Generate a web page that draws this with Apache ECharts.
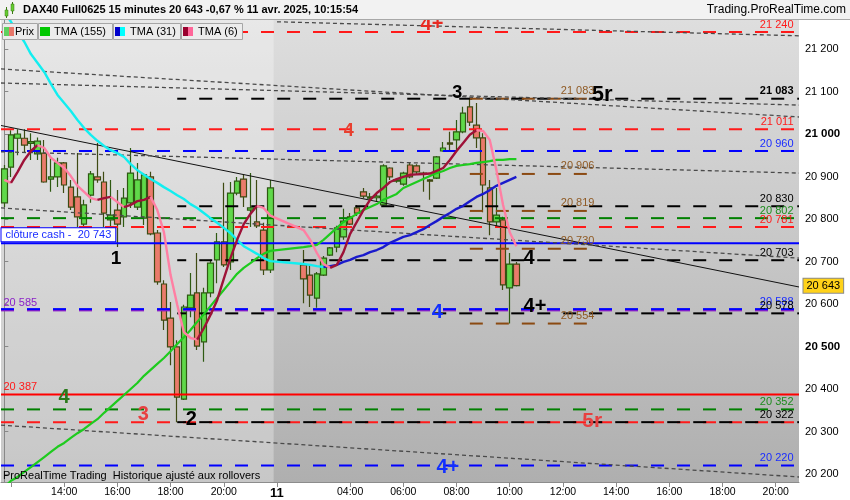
<!DOCTYPE html>
<html>
<head>
<meta charset="utf-8">
<script src="https://cdn.jsdelivr.net/npm/echarts@6.0.0/dist/echarts.min.js"></script>
<style>
html,body{margin:0;padding:0;background:#ffffff;}
#chart{width:850px;height:500px;}
</style>
</head>
<body>
<div id="chart"></div>
<script>
// ---------------- DATA ----------------
const sessions = [
  { day: '10', start: '11:45', end: '21:45' },
  { day: '11', start: '01:15', end: '20:45' }
];
// [open, close, low, high] per 15-min bar from 10 Apr 11:45
const candles = [
 [20838,20918,20828,20927],[20922,20998,20899,21009],[20990,21000,20950,21011],[20990,20974,20955,21011],
 [20978,20982,20939,21002],[20953,20983,20939,20992],[20955,20887,20885,20986],[20894,20899,20864,20944],
 [20899,20932,20875,20944],[20932,20880,20861,20934],[20875,20828,20821,20892],[20852,20805,20781,20955],
 [20788,20833,20779,20845],[20856,20906,20838,20913],[20899,20892,20885,20979],[20887,20814,20781,20911],
 [20798,20809,20751,20892],[20821,20788,20734,20868],[20805,20849,20781,20873],[20838,20908,20826,20967],
 [20828,20892,20821,20932],[20802,20904,20786,20908],[20899,20765,20762,20911],[20767,20652,20645,20774],
 [20647,20562,20539,20656],[20567,20499,20456,20605],[20499,20381,20322,20515],[20376,20593,20374,20598],
 [20591,20621,20569,20673],[20626,20501,20492,20720],[20511,20626,20464,20638],[20626,20696,20616,20704],
 [20704,20746,20649,20767],[20746,20692,20687,20885],[20699,20861,20680,20887],[20861,20889,20856,20899],
 [20894,20852,20828,20906],[20821,20826,20781,20908],[20793,20784,20779,20892],[20774,20680,20668,20791],
 [20680,20873,20673,20892],
 null, null, null, null,
 [20692,20659,20602,20727],[20668,20621,20593,20692],[20614,20671,20591,20675],[20668,20708,20666,20713],
 [20715,20732,20713,20734],[20734,20779,20722,20784],[20758,20795,20751,20824],[20805,20788,20786,20814],
 [20826,20814,20807,20833],[20864,20854,20849,20873],[20849,20852,20845,20861],[20850,20854,20842,20861],
 [20833,20925,20831,20929],[20920,20899,20892,20922],[20889,20892,20885,20896],[20882,20908,20878,20911],
 [20927,20899,20896,20932],[20925,20911,20904,20929],[20908,20906,20864,20911],[20892,20889,20845,20894],
 [20896,20946,20894,20948],[20960,20967,20958,20981],[20979,20976,20962,21005],[20986,21005,20962,21033],
 [21005,21049,21002,21064],[21064,21028,21019,21083],[21021,20991,20967,21073],[20991,20880,20816,21002],
 [20873,20793,20762,20892],[20793,20809,20781,20873],[20798,20645,20633,20805],[20638,20694,20554,20720],
 [20694,20643,20641,20699]
];
const tma155 = [
 20169,20184,20193,20205,20216,20228,20240,20252,20264,20273,
 20285,20296,20306,20318,20329,20344,20358,20372,20386,20400,
 20414,20431,20445,20459,20473,20489,20506,20522,20539,20558,
 20576,20595,20614,20633,20652,20671,20685,20696,20708,20718,
 20725,null,null,null,null,20734,20736,20739,20751,20765,
 20779,20793,20802,20812,20821,20828,20835,20845,20852,20859,
 20873,20880,20887,20894,20901,20908,20913,20920,20925,20927,
 20929,20932,20934,20936,20939,20939,20941,20941
];
const tma31 = [
 21287,21264,21240,21217,21188,21167,21146,21118,21092,21073,
 21054,21033,21014,20998,20984,20972,20962,20955,20946,20929,
 20915,20904,20894,20885,20875,20866,20856,20847,20835,20826,
 20814,20802,20791,20779,20767,20751,20736,20727,20718,20708,
 20701,null,null,null,null,20694,20692,20689,20687,20689,
 20692,20699,20704,20711,20715,20722,20727,20734,20744,20751,
 20758,20762,20769,20776,20786,20795,20805,20814,20824,20831,
 20842,20852,20859,20868,20878,20885,20892,20899
];
const tma6 = [
 20892,20885,20911,20939,20960,20974,20967,20944,20932,20920,
 20901,20878,20864,20849,20845,20849,20852,20840,20828,20833,
 20842,20845,20852,20821,20769,20668,20598,20534,20520,20516,
 20543,20574,20609,20659,20708,20751,20788,20812,20831,20826,
 20808,null,null,null,null,20774,20751,20720,20694,20685,
 20692,20722,20765,20793,20821,20845,20861,20873,20887,20894,
 20899,20904,20905,20906,20907,20913,20920,20939,20960,20979,
 20998,21009,21007,20986,20915,20833,20769,20736
];
const yTickValues = [20200,20300,20400,20500,20600,20700,20800,20900,21000,21100,21200];
const yBoldTicks = [20500,21000];
const xLabelCats = ['10 14:00','10 16:00','10 18:00','10 20:00','11 01:15','11 04:00','11 06:00','11 08:00','11 10:00','11 12:00','11 14:00','11 16:00','11 18:00','11 20:00'];
const xTickOnlyCats = ['10 12:00'];
const dayStartCat = '11 01:15';

const redDashLevels = [21240, 21011, 20781, 20322];
const blueDashLevels = [20960, 20588, 20220];
const purpleDashLevels = [20585];
const greenDashLevels = [20802, 20352];
const blackDashLevels = [21083, 20830, 20703, 20578, 20322];
const brownDashLevels = [21083, 20906, 20819, 20730, 20554];
const cashClose = 20743;
const redSolidLevel = 20387;
const lastPrice = 20643;
const blackStartCat = '10 18:15';   // swing low bar
const brownStartCat = '11 08:30';   // swing high bar
const brownEndIdx = 87.6;

// trend lines: [startIdx, startPrice, endIdx, endPrice]
const solidTrends = [[-0.5, 21020, 119.5, 20640]];
const dashedTrends = [
  [41, 21264, 119.5, 21231],
  [-0.5, 21153, 119.5, 21040],
  [-0.5, 21120, 119.5, 21068],
  [-0.5, 20958, 119.5, 20908],
  [-0.5, 20826, 119.5, 20708],
  [-0.5, 20315, 119.5, 20193]
];
// right-side level tags: [price, colour key]
const rightTags = [[21240,'red'],[21083,'black'],[21011,'red'],[20960,'blue'],[20830,'black'],[20802,'green'],
  [20781,'red'],[20703,'black'],[20588,'blue'],[20578,'black'],[20352,'green'],[20322,'black'],[20220,'blue']];
// wave count labels: [bar position, price, text]
const waveLabels = [
  [64.3, 21258, '4+'], [68.1, 21096, '3'], [89.9, 21092, '5r'], [51.8, 21007, '4'],
  [16.8, 20706, '1'], [78.9, 20706, '4'], [65.1, 20579, '4'], [79.8, 20593, '4+'],
  [9.0, 20381, '4'], [20.9, 20339, '3'], [28.1, 20329, '2'], [88.4, 20325, '5r'], [66.7, 20216, '4+']
];

// ---------------- STYLES / BUILD ----------------
const FONT = '"Liberation Sans", Arial, sans-serif';
const COL = { red:'#ff1a1a', blue:'#1a2cff', green:'#1e8c1e', black:'#000000', purple:'#8a1fc8', brown:'#8b4a12' };
const waveColors = ['#e82a22','#000','#000','#e8402f','#000','#000','#1230ff','#000','#2a7a1a','#e84040','#000','#e84040','#1230ff'];
const waveSizes  = [20,18,22,18,19,20,20,20,20,20,20,21,20];

const pad = n => (n < 10 ? '0' : '') + n;
const fmt = v => String(Math.round(v)).replace(/\B(?=(\d{3})+(?!\d))/g, ' ');

const categories = [];
sessions.forEach(s => {
  let [h, m] = s.start.split(':').map(Number);
  const [eh, em] = s.end.split(':').map(Number);
  while (h * 60 + m <= eh * 60 + em) {
    categories.push(s.day + ' ' + pad(h) + ':' + pad(m));
    m += 15; if (m >= 60) { m -= 60; h++; }
  }
});
const N = categories.length;
const XMAX = N - 0.5;
const blackStart = categories.indexOf(blackStartCat);
const brownStart = categories.indexOf(brownStartCat);

const candleData = [];
candles.forEach((c, i) => { if (c) candleData.push([i, c[0], c[1], c[2], c[3]]); });

const series = [];
// background band for previous day
series.push({
  type: 'line', xAxisIndex: 1, data: [[-0.5, 20190], [0, 20190]], symbol: 'none', lineStyle: { opacity: 0 }, silent: true, z: 0,
  markArea: { silent: true, itemStyle: { color: 'rgba(255,255,255,0.30)' },
    data: [[{ xAxis: -0.5 }, { xAxis: categories.indexOf(dayStartCat) - 0.5 }]] }
});

series.push({
  type: 'candlestick', xAxisIndex: 0, data: candleData, encode: { x: 0, y: [1, 2, 3, 4] }, barWidth: 6, z: 3,
  itemStyle: { color: '#60d84a', color0: '#ea7b6b', borderColor: '#2e5a12', borderColor0: '#3e4a12', borderWidth: 1.2 }
});

function hLine(v, x0, x1, color, width, type, offset, z) {
  series.push({ type: 'line', xAxisIndex: 1, data: [[x0, v], [x1, v]], symbol: 'none', silent: true, z: z || 4,
    lineStyle: { color, width, type: type || 'solid', dashOffset: offset || 0 } });
}
const DASH = [13, 13];
redDashLevels.forEach(v => hLine(v, -0.5, XMAX, COL.red, 2, DASH, 0));
purpleDashLevels.forEach(v => hLine(v, -0.5, XMAX, COL.purple, 2, DASH, 0));
blueDashLevels.forEach(v => hLine(v, -0.5, XMAX, '#0000ff', 2, DASH, 0));
greenDashLevels.forEach(v => hLine(v, -0.5, XMAX, '#008000', 2, DASH, 0));
blackDashLevels.forEach(v => hLine(v, blackStart, XMAX, '#000', 2, DASH, 4));
brownDashLevels.forEach(v => hLine(v, brownStart, brownEndIdx, COL.brown, 2, DASH, 0));
hLine(cashClose, -0.5, XMAX, '#0000ff', 2, 'solid');
hLine(redSolidLevel, -0.5, XMAX, '#ff0000', 2, 'solid');

solidTrends.forEach(t => series.push({ type: 'line', xAxisIndex: 1, data: [[t[0], t[1]], [t[2], t[3]]], symbol: 'none', silent: true, z: 4,
  lineStyle: { color: '#111', width: 1 } }));
dashedTrends.forEach(t => series.push({ type: 'line', xAxisIndex: 1, data: [[t[0], t[1]], [t[2], t[3]]], symbol: 'none', silent: true, z: 4,
  lineStyle: { color: '#4a4a4a', width: 1.3, type: [4, 3] } }));

function dirSeries(vals, upColor, downColor, width) {
  const idx = [];
  vals.forEach((v, i) => { if (v != null) idx.push(i); });
  const runs = [];
  let dir = null, start = idx[0];
  for (let k = 0; k < idx.length - 1; k++) {
    const a = idx[k], b = idx[k + 1];
    const d = vals[b] >= vals[a] ? 'up' : 'down';
    if (d !== dir) { if (dir) runs.push({ dir, from: start, to: a }); dir = d; start = a; }
  }
  runs.push({ dir, from: start, to: idx[idx.length - 1] });
  runs.forEach(r => series.push({
    type: 'line', xAxisIndex: 1, symbol: 'none', silent: true, z: 5,
    data: idx.filter(i => i >= r.from && i <= r.to).map(i => [i, vals[i]]),
    lineStyle: { color: r.dir === 'up' ? upColor : downColor, width }
  }));
}
dirSeries(tma155, '#1ecb1e', '#1ecb1e', 2.2);
dirSeries(tma31, '#1a1acc', '#12eef0', 2.4);
dirSeries(tma6, '#9e1238', '#ff7fa3', 2.4);

// text annotations
function textSeries(items, z) {
  series.push({ type: 'scatter', xAxisIndex: 1, symbolSize: 1, itemStyle: { color: 'transparent', opacity: 1 }, silent: true, clip: false,
    z: z || 10, data: items });
}
textSeries(waveLabels.map((w, k) => ({ value: [w[0], w[1]],
  label: { show: true, position: 'inside', formatter: w[2], fontSize: waveSizes[k], fontWeight: 'bold', color: waveColors[k], opacity: 1, fontFamily: FONT } })));
textSeries(rightTags.map(t => ({ value: [XMAX, t[0]],
  label: { show: true, position: 'left', distance: 5, offset: [0, -7.5], formatter: fmt(t[0]), fontSize: 11, opacity: 1,
    fontWeight: t[0] === 21083 ? 'bold' : 'normal', color: COL[t[1]], fontFamily: FONT } })));
textSeries(brownDashLevels.map(v => ({ value: [83.6, v],
  label: { show: true, position: 'right', distance: 0, offset: [0, -7.5], formatter: fmt(v), fontSize: 11, opacity: 1, color: '#8f5a24', fontFamily: FONT } })));
textSeries([
  { value: [-0.5, purpleDashLevels[0]], label: { show: true, position: 'right', distance: 2, offset: [0, -7.5], formatter: fmt(purpleDashLevels[0]), fontSize: 11, opacity: 1, color: COL.purple, fontFamily: FONT } },
  { value: [-0.5, redSolidLevel], label: { show: true, position: 'right', distance: 2, offset: [0, -7.5], formatter: fmt(redSolidLevel), fontSize: 11, opacity: 1, color: '#ff1a1a', fontFamily: FONT } },
  { value: [-0.5, cashClose], label: { show: true, position: 'right', distance: 0, offset: [0, -8.5], formatter: 'clôture cash -  ' + fmt(cashClose), opacity: 1,
      fontSize: 11, color: '#1a2cff', backgroundColor: '#ffffff', borderColor: '#0000ff', borderWidth: 1, padding: [1, 4, 1, 4], fontFamily: FONT } },
  { value: [XMAX, lastPrice], label: { show: true, position: 'right', distance: 4, formatter: fmt(lastPrice), fontSize: 11, color: '#000', opacity: 1,
      backgroundColor: '#ffd21a', borderColor: '#8a8a8a', borderWidth: 1, padding: [2, 3, 1, 3], fontFamily: FONT } }
], 12);

const labelSet = new Set(xLabelCats);
const tickSet = new Set(xLabelCats.concat(xTickOnlyCats));

const legendBoxes = [
  { x: 2, w: 35, text: 'Prix', tx: 15, c1: '#5ed15e', c2: '#e8776a' },
  { x: 38, w: 74, text: 'TMA (155)', tx: 54, c1: '#00c800', c2: '#00c800' },
  { x: 113, w: 67, text: 'TMA (31)', tx: 130, c1: '#0000cc', c2: '#00ffff' },
  { x: 181, w: 61, text: 'TMA (6)', tx: 198, c1: '#99002e', c2: '#ff6699' }
];
const graphic = [
  { type: 'rect', shape: { x: 0, y: 0, width: 850, height: 19 }, style: { fill: '#f2f2f2' }, z: 100 },
  { type: 'line', shape: { x1: 0, y1: 19.5, x2: 850, y2: 19.5 }, style: { stroke: '#a8a8a8', lineWidth: 1 }, z: 101 },
  { type: 'line', shape: { x1: 6.5, y1: 7, x2: 6.5, y2: 18 }, style: { stroke: '#3a7a10', lineWidth: 1 }, z: 101 },
  { type: 'rect', shape: { x: 5, y: 10, width: 3, height: 6 }, style: { fill: '#66cc33', stroke: '#3a7a10', lineWidth: 0.5 }, z: 102 },
  { type: 'line', shape: { x1: 12.5, y1: 2, x2: 12.5, y2: 14 }, style: { stroke: '#3a7a10', lineWidth: 1 }, z: 101 },
  { type: 'rect', shape: { x: 11, y: 4, width: 3, height: 7 }, style: { fill: '#66cc33', stroke: '#3a7a10', lineWidth: 0.5 }, z: 102 },
  { type: 'text', x: 23, y: 10, style: { text: 'DAX40 Full0625 15 minutes 20 643 -0,67 % 11 avr. 2025, 10:15:54', font: 'bold 11px ' + FONT, fill: '#000',
      textVerticalAlign: 'middle', verticalAlign: 'middle' }, z: 101 },
  { type: 'text', x: 846, y: 10, style: { text: 'Trading.ProRealTime.com', font: '12px ' + FONT, fill: '#000', textAlign: 'right', align: 'right',
      textVerticalAlign: 'middle', verticalAlign: 'middle' }, z: 101 },
  { type: 'text', x: 3, y: 476, style: { text: 'ProRealTime Trading  Historique ajusté aux rollovers', font: '11px ' + FONT, fill: '#000',
      textVerticalAlign: 'middle', verticalAlign: 'middle' }, z: 101 }
];
legendBoxes.forEach(b => {
  graphic.push({ type: 'rect', shape: { x: b.x + 0.5, y: 23.5, width: b.w, height: 16 }, style: { fill: '#ececec', stroke: '#a6a6a6', lineWidth: 1 }, z: 101 });
  graphic.push({ type: 'rect', shape: { x: b.x + 2, y: 27, width: 5, height: 9 }, style: { fill: b.c1 }, z: 102 });
  graphic.push({ type: 'rect', shape: { x: b.x + 7, y: 27, width: 5, height: 9 }, style: { fill: b.c2 }, z: 102 });
  graphic.push({ type: 'text', x: b.tx, y: 31.5, style: { text: b.text, font: '11px ' + FONT, fill: '#000', textVerticalAlign: 'middle', verticalAlign: 'middle' }, z: 102 });
});

const chart = echarts.init(document.getElementById('chart'), null, { renderer: 'canvas' });
chart.setOption({
  animation: false,
  textStyle: { fontFamily: FONT },
  grid: { left: 1, right: 51, top: 20, bottom: 18, show: true, borderWidth: 0,
    backgroundColor: new echarts.graphic.LinearGradient(0, 0, 0, 1, [{ offset: 0, color: '#dedede' }, { offset: 1, color: '#afafaf' }]) },
  xAxis: [
    { type: 'category', data: categories, boundaryGap: true,
      axisLine: { show: true, lineStyle: { color: '#8c8c8c' } },
      axisTick: { show: true, length: 5, alignWithLabel: true, interval: (i, v) => tickSet.has(v), lineStyle: { color: '#8c8c8c' } },
      axisLabel: { interval: (i, v) => labelSet.has(v), margin: 5, fontSize: 10.5, color: '#000',
        formatter: v => (v === dayStartCat ? '{d|11}' : v.slice(3)),
        rich: { d: { fontSize: 13, fontWeight: 'bold', color: '#000' } } },
      splitLine: { show: false } },
    { type: 'value', min: -0.5, max: XMAX, show: false }
  ],
  yAxis: {
    type: 'value', position: 'right', min: 20181.2, max: 21268.2, scale: true,
    axisLine: { show: true, lineStyle: { color: '#555' } },
    axisTick: { show: true, length: 4, customValues: yTickValues, lineStyle: { color: '#555' } },
    axisLabel: { customValues: yTickValues, margin: 6, fontSize: 11, color: '#000',
      formatter: v => (yBoldTicks.indexOf(v) >= 0 ? '{b|' + fmt(v) + '}' : fmt(v)),
      rich: { b: { fontWeight: 'bold', fontSize: 11.5, color: '#000' } } },
    splitLine: { show: false }
  },
  graphic: graphic,
  series: series
});
</script>
</body>
</html>
